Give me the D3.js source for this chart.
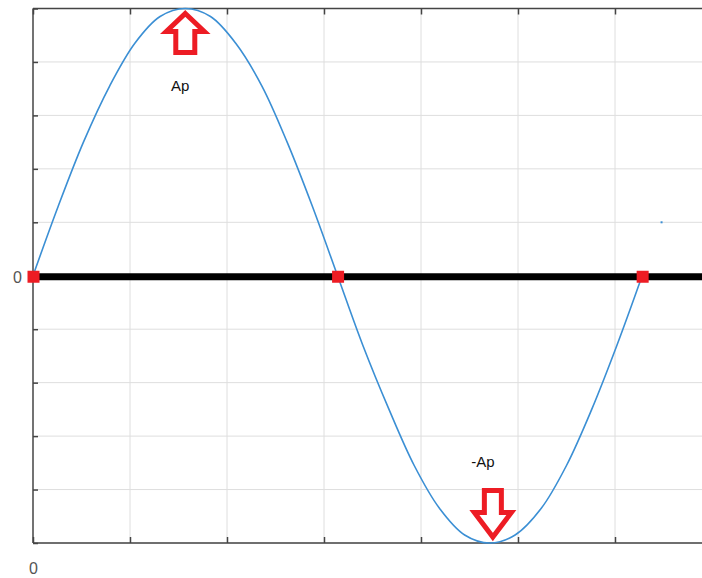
<!DOCTYPE html>
<html><head><meta charset="utf-8">
<script src="https://cdn.jsdelivr.net/npm/d3@7"></script>
<style>html,body{margin:0;padding:0;background:#fff;}svg{display:block;}</style>
</head><body>
<svg id="chart" width="702" height="578"></svg>
<script>
// Values (x in radians, y amplitude)
const xValues = [0, 0.26, 0.52, 0.79, 1.05, 1.31, 1.57, 1.83, 2.09, 2.36, 2.62, 2.88, 3.14,
                 3.40, 3.67, 3.93, 4.19, 4.45, 4.71, 4.97, 5.24, 5.50, 5.76, 6.02, 6.28];
const yValues = [0, 0.26, 0.50, 0.71, 0.87, 0.97, 1.00, 0.97, 0.87, 0.71, 0.50, 0.26, 0,
                 -0.26, -0.50, -0.71, -0.87, -0.97, -1.00, -0.97, -0.87, -0.71, -0.50, -0.26, 0];
const zeroPoints = [[0, 0], [3.14, 0], [6.28, 0]];
const peakPoint = [1.57, 1];
const troughPoint = [4.71, -1];
const peakLabel = "Ap";
const troughLabel = "-Ap";
const xGridTicks = [0, 1, 2, 3, 4, 5, 6, 7];
const yGridTicks = [-1, -0.8, -0.6, -0.4, -0.2, 0, 0.2, 0.4, 0.6, 0.8, 1];
const xTickLabels = {0: "0"};
const yTickLabels = {0: "0"};
const strayPoint = [6.48, 0.2];

const svg = d3.select("#chart");
const x = d3.scaleLinear().domain([0, 7]).range([33, 712]);
const y = d3.scaleLinear().domain([-1, 1]).range([543, 8.5]);

// grid
svg.append("g").selectAll("line").data(xGridTicks.slice(1)).join("line")
  .attr("x1", d => x(d)).attr("x2", d => x(d)).attr("y1", y(1)).attr("y2", y(-1))
  .attr("stroke", "#dedede").attr("stroke-width", 1);
svg.append("g").selectAll("line").data(yGridTicks).join("line")
  .attr("x1", x(0)).attr("x2", 702).attr("y1", d => y(d)).attr("y2", d => y(d))
  .attr("stroke", "#dedede").attr("stroke-width", 1);

// axes (frame with inward ticks)
const axisColor = "#444";
const leftAxis = svg.append("g").attr("transform", `translate(${x(0)},0)`)
  .call(d3.axisLeft(y).tickValues(yGridTicks).tickSize(-5).tickPadding(11)
    .tickFormat(d => yTickLabels[d] !== undefined ? yTickLabels[d] : ""));
const bottomAxis = svg.append("g").attr("transform", `translate(0,${y(-1)})`)
  .call(d3.axisBottom(x).tickValues(xGridTicks).tickSize(-6).tickPadding(20)
    .tickFormat(d => xTickLabels[d] !== undefined ? xTickLabels[d] : ""));
const topAxis = svg.append("g").attr("transform", `translate(0,${y(1)})`)
  .call(d3.axisTop(x).tickValues(xGridTicks).tickSize(-6).tickFormat(""));
[leftAxis, bottomAxis, topAxis].forEach(g => {
  g.select(".domain").attr("stroke", axisColor).attr("stroke-width", 1.5);
  g.selectAll(".tick line").attr("stroke", axisColor).attr("stroke-width", 1.5);
  g.selectAll("text").attr("fill", "#555").style("font-family", "Liberation Sans, Arial, sans-serif").style("font-size", "16px");
});
leftAxis.select(".domain").attr("d", `M0,${y(1)}V${y(-1)}`);
bottomAxis.select(".domain").attr("d", `M${x(0)},0H702`);
topAxis.select(".domain").attr("d", `M${x(0)},0H702`);
leftAxis.selectAll(".tick text").attr("dy", "0.45em");

// thick zero line
svg.append("line").attr("x1", x(0)).attr("x2", 702).attr("y1", y(0) + 1).attr("y2", y(0) + 1)
  .attr("stroke", "#000").attr("stroke-width", 7);

// sine curve
const pts = xValues.map((v, i) => [v, yValues[i]]);
svg.append("path").datum(pts)
  .attr("d", d3.line().x(d => x(d[0])).y(d => y(d[1])).curve(d3.curveCatmullRom.alpha(0.5)))
  .attr("fill", "none").attr("stroke", "#3b8fd4").attr("stroke-width", 1.6);

// stray dot
svg.append("rect").attr("x", x(strayPoint[0]) - 1).attr("y", y(strayPoint[1]) - 1)
  .attr("width", 2).attr("height", 2).attr("fill", "#3b8fd4");

// red squares
const red = "#ed1c24";
svg.append("g").selectAll("rect").data(zeroPoints).join("rect")
  .attr("x", d => x(d[0]) - 5.5).attr("y", d => y(d[1]) - 5)
  .attr("width", 12).attr("height", 12).attr("fill", red);

// arrows
const upShape = [[0, 5], [19, 23], [9.5, 23], [9.5, 44], [-9.5, 44], [-9.5, 23], [-19, 23]];
const px = x(peakPoint[0]), py = y(peakPoint[1]);
svg.append("path")
  .attr("d", "M" + upShape.map(p => [px + p[0], py + p[1]].join(",")).join("L") + "Z")
  .attr("fill", "#fff").attr("stroke", red).attr("stroke-width", 5).attr("stroke-linejoin", "miter");
const downShape = [[0, -6], [18.5, -30.5], [8.5, -30.5], [8.5, -52.5], [-8.5, -52.5], [-8.5, -30.5], [-18.5, -30.5]];
const tx = x(troughPoint[0]) + 3, ty = y(troughPoint[1]);
svg.append("path")
  .attr("d", "M" + downShape.map(p => [tx + p[0], ty + p[1]].join(",")).join("L") + "Z")
  .attr("fill", "#fff").attr("stroke", red).attr("stroke-width", 5).attr("stroke-linejoin", "miter");

// labels
svg.append("text").attr("x", px - 5).attr("y", py + 82).attr("text-anchor", "middle")
  .style("font-family", "Liberation Sans, Arial, sans-serif").style("font-size", "15px").attr("fill", "#111")
  .text(peakLabel);
svg.append("text").attr("x", tx - 10).attr("y", ty - 76).attr("text-anchor", "middle")
  .style("font-family", "Liberation Sans, Arial, sans-serif").style("font-size", "15px").attr("fill", "#111")
  .text(troughLabel);
</script>
</body></html>
